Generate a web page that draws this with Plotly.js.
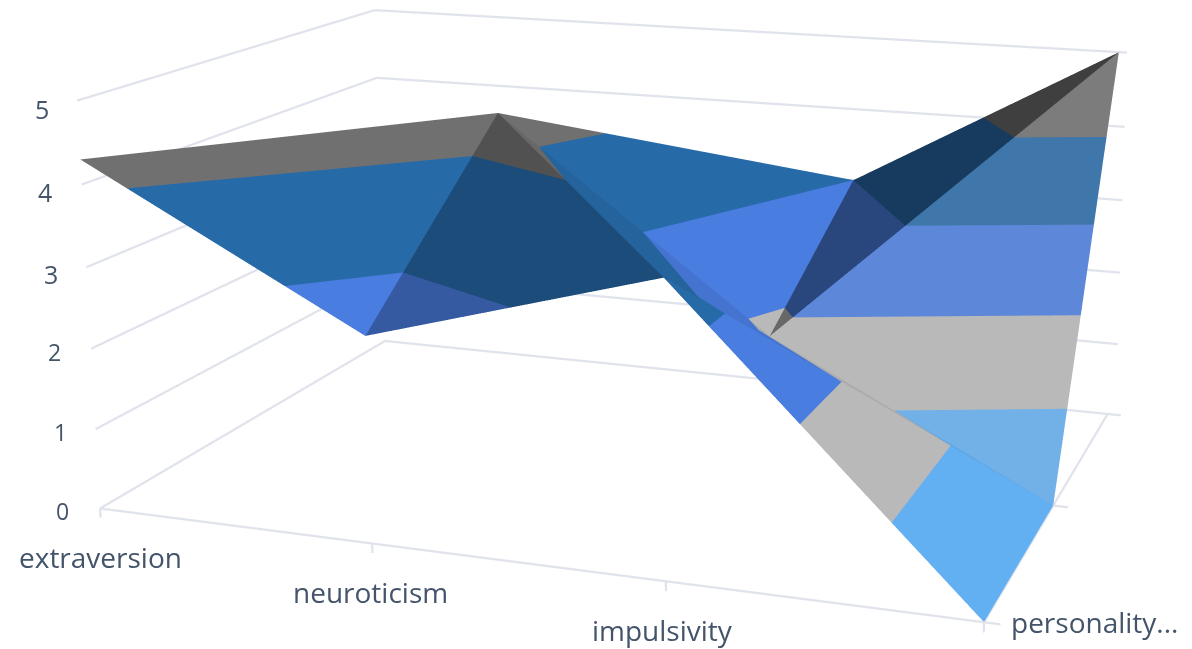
<!DOCTYPE html><html><head><meta charset="utf-8"><script src="https://cdn.plot.ly/plotly-3.0.1.min.js"></script>
<style>html,body{margin:0;background:#fff;overflow:hidden;width:1192px;height:649px}#g{position:absolute;left:-148px;top:-861px;width:1947px;height:1947px}</style></head><body><div id="g"></div>
<script>
var categories=['extraversion','neuroticism','impulsivity','personality...'];
var frontSeries=[4.3,2.5,3.5,0];
var midSeries=[3,4.4,1.8,0];
var backSeries=[2.5,3.2,3,5];
var zTicks=[0,1,2,3,4,5];
var bandColors=[[98,175,242],[185,185,185],[74,125,224],[39,106,168],[112,112,112]];
var rows=[frontSeries,midSeries,backSeries];
function pt(i,r){return [i,r,rows[r][i]]}
// Each face: three grid corners, brightness factor, mix toward grey
var faces=[
[[0,0],[1,0],[1,1],1,0],[[0,0],[1,1],[0,1],1,0],
[[1,0],[2,0],[1,1],.72,0],[[2,0],[2,1],[1,1],.93,0],
[[2,0],[3,0],[3,1],1,0],[[2,0],[3,1],[2,1],.93,0],
[[0,1],[1,1],[1,2],1,0],[[0,1],[1,2],[0,2],1,0],
[[1,1],[2,1],[2,2],1,0],[[1,1],[2,2],[1,2],1,0],
[[2,1],[3,1],[3,2],1,.17],[[2,1],[3,2],[2,2],.56,0]];
function clip(poly,v,keepAbove){var o=[];for(var i=0;i<poly.length;i++){var a=poly[i],b=poly[(i+1)%poly.length],ia=keepAbove?a[2]>=v:a[2]<=v,ib=keepAbove?b[2]>=v:b[2]<=v;if(ia)o.push(a);if(ia!==ib){var t=(v-a[2])/(b[2]-a[2]);o.push([a[0]+t*(b[0]-a[0]),a[1]+t*(b[1]-a[1]),v])}}return o}
var X=[],Y=[],Z=[],I=[],J=[],K=[],FC=[];
faces.forEach(function(f){var tri=[pt(f[0][0],f[0][1]),pt(f[1][0],f[1][1]),pt(f[2][0],f[2][1])];
 bandColors.forEach(function(c,b){var p=clip(clip(tri,b,true),b+1,false);if(p.length<3)return;var s=X.length;p.forEach(function(q){X.push(q[0]);Y.push(q[1]);Z.push(q[2])});
  var col=c.map(function(v){return Math.round((v*f[3])*(1-f[4])+185*f[4])});
  for(var n=1;n<p.length-1;n++){I.push(s);J.push(s+n);K.push(s+n+1);FC.push('rgb('+col.join(',')+')')}})});
var lineC='#e0e3ec',txt='#44546a',nx=categories.length-1,ny=rows.length-1;
// room below the floor, above the top and right of the last category, so stubs and the top grid line are not clipped
var xOver=.05,zUnder=.13,zOver=.05,zTop=zTicks[zTicks.length-1];
var baseAspect={x:4.924,y:3.2979,z:2.2567};
var xShift=-baseAspect.x/nx*xOver/2,zShift=baseAspect.z/zTop*(zUnder-zOver)/2;
var gx=[],gy=[],gz=[];
function seg(pts){pts.forEach(function(p){gx.push(p[0]);gy.push(p[1]);gz.push(p[2])});gx.push(null);gy.push(null);gz.push(null)}
zTicks.forEach(function(v){seg([[0,0,v],[0,ny,v],[nx+.03,ny,v]])});
seg([[0,0,0],[nx,0,0]]);seg([[nx,0,0],[nx,ny,0]]);
categories.forEach(function(c,i){seg([[i,0,0],[i,0,-zUnder*.9]])});
rows.forEach(function(r,j){seg([[nx,j,0],[nx+xOver,j,0]])});
var ax=function(o){return Object.assign({showbackground:false,showspikes:false,title:{text:''},showticklabels:false,showgrid:false,zeroline:false,showline:false,ticks:''},o)};
var ann=[];
var catShift=[[0,-49],[-2,-49],[-3,-49],[110,0]];
categories.forEach(function(t,i){ann.push({x:i,y:0,z:0,text:t,showarrow:false,xshift:catShift[i][0],yshift:catShift[i][1],font:{family:'Open Sans',size:28,color:txt}})});
var numShift=[[-38,-3],[-35,-3],[-37,-3],[-35,-7],[-37,-7],[-35,-8]],numSize=[23,23,23,25,25,25];
zTicks.forEach(function(v,i){ann.push({x:0,y:0,z:v,text:String(v),showarrow:false,xshift:numShift[i][0],yshift:numShift[i][1],font:{family:'Open Sans',size:numSize[i],color:txt}})});
var layout={width:1947,height:1947,margin:{l:0,r:0,t:0,b:0,pad:0},paper_bgcolor:'#fff',showlegend:false,
scene:{domain:{x:[0,1],y:[0,1]},aspectmode:'manual',aspectratio:{x:baseAspect.x*(nx+xOver)/nx,y:baseAspect.y,z:baseAspect.z*(zTop+zUnder+zOver)/zTop},
camera:{eye:{x:4.8308+xShift,y:-12.0694,z:3.4991+zShift},center:{x:1.4518+xShift,y:-1.0191,z:1.199+zShift},up:{x:1.0872,y:-3.5611,z:1}},
annotations:ann,
xaxis:ax({range:[0,nx+xOver],tickvals:[0,1,2,3]}),yaxis:ax({range:[0,ny],tickvals:[0,1,2]}),
zaxis:ax({range:[-zUnder,zTop+zOver],tickvals:zTicks})}};
var tr=[{type:'scatter3d',mode:'lines',x:gx,y:gy,z:gz,connectgaps:false,hoverinfo:'skip',line:{color:lineC,width:4.5}},
{type:'mesh3d',x:X,y:Y,z:Z,i:I,j:J,k:K,facecolor:FC,flatshading:true,hoverinfo:'skip',lighting:{ambient:1,diffuse:0,specular:0,roughness:1,fresnel:0}}];
Plotly.newPlot('g',tr,layout,{displayModeBar:false});
</script></body></html>
